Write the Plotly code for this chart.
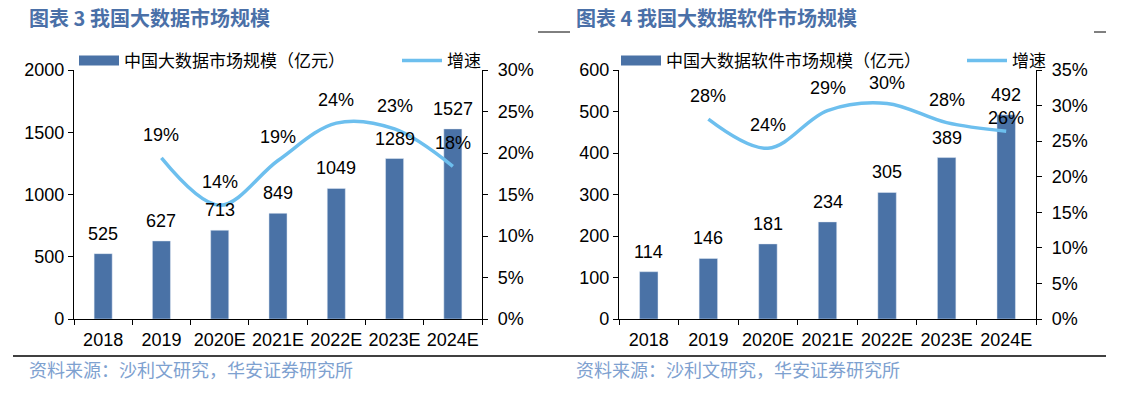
import plotly.graph_objects as go

W, H = 1140, 396

years = ["2018", "2019", "2020E", "2021E", "2022E", "2023E", "2024E"]
market = [525, 627, 713, 849, 1049, 1289, 1527]
market_growth = [19.4, 13.7, 19.1, 23.6, 22.9, 18.4]
software = [114, 146, 181, 234, 305, 389, 492]
software_growth = [28.1, 24.0, 29.3, 30.3, 27.6, 26.4]

left_title = "图表 3 我国大数据市场规模"
right_title = "图表 4 我国大数据软件市场规模"
left_bar_name = "中国大数据市场规模（亿元）"
right_bar_name = "中国大数据软件市场规模（亿元）"
line_name = "增速"
source_text = "资料来源：沙利文研究，华安证券研究所"

# label offsets (style, pixels above the mark)
left_growth_shift = [23, 23, 23, 23, 23, 23]
right_growth_shift = [23, 23, 23, 20, 23, 13]

BAR = "#4a72a6"
LINE = "#6dbfee"
TITLE = "#4a70a8"
SRC = "#7ea1d0"
NUM_FONT = "Liberation Sans, Arial, sans-serif"
CJK_FONT = "Noto Sans CJK SC, sans-serif"


def px(x):
    return x / W


def py(y):
    return (H - y) / H


fig = go.Figure()

for xa, ya, ya2, vals, gro, bname, lg in [
        ("x", "y", "y2", market, market_growth, left_bar_name, "legend"),
        ("x2", "y3", "y4", software, software_growth, right_bar_name, "legend2")]:
    fig.add_trace(go.Bar(x=years, y=vals, name=bname, marker_color=BAR,
                         xaxis=xa, yaxis=ya, showlegend=False))
    # legend entry drawn as a wide bar swatch
    fig.add_trace(go.Scatter(x=[None], y=[None], name=bname, mode="lines",
                             line=dict(color=BAR, width=10),
                             xaxis=xa, yaxis=ya, legend=lg))
    fig.add_trace(go.Scatter(x=years[1:], y=gro, name=line_name, mode="lines",
                             line=dict(color=LINE, width=3.5, shape="spline", smoothing=1.0),
                             xaxis=xa, yaxis=ya2, legend=lg))

annotations = []
for xa, ya, ya2, vals, gro, shifts in [
        ("x", "y", "y2", market, market_growth, left_growth_shift),
        ("x2", "y3", "y4", software, software_growth, right_growth_shift)]:
    for i, v in enumerate(vals):
        annotations.append(dict(x=i, y=v, xref=xa, yref=ya, text=str(v), showarrow=False,
                                yshift=20, font=dict(family=NUM_FONT, size=18, color="black")))
    for i, (g, s) in enumerate(zip(gro, shifts), start=1):
        annotations.append(dict(x=i, y=g, xref=xa, yref=ya2, text=f"{round(g)}%", showarrow=False,
                                yshift=s, font=dict(family=NUM_FONT, size=18, color="black")))

for xpos, t in [(27, left_title), (574, right_title)]:
    annotations.append(dict(x=px(xpos), y=py(18), xref="paper", yref="paper", xanchor="left",
                            yanchor="middle", text=f"<b>{t}</b>", showarrow=False,
                            font=dict(family=CJK_FONT, size=20, color=TITLE)))
for xpos in [27, 574]:
    annotations.append(dict(x=px(xpos), y=py(369), xref="paper", yref="paper", xanchor="left",
                            yanchor="middle", text=source_text, showarrow=False,
                            font=dict(family=CJK_FONT, size=18, color=SRC)))

shapes = [
    dict(type="line", xref="paper", yref="paper", x0=px(13), x1=px(1106), y0=py(356), y1=py(356),
         line=dict(color="black", width=1.3)),
    dict(type="line", xref="paper", yref="paper", x0=px(538), x1=px(570), y0=py(32), y1=py(32),
         line=dict(color="black", width=1)),
    dict(type="line", xref="paper", yref="paper", x0=px(1094), x1=px(1106), y0=py(32), y1=py(32),
         line=dict(color="black", width=1)),
]

axis_common = dict(showline=True, linecolor="black", linewidth=1.3, ticks="outside", ticklen=5,
                   tickcolor="black", tickwidth=1.3, showgrid=False, zeroline=False,
                   automargin=False,
                   tickfont=dict(family=NUM_FONT, size=18, color="black"))
ydom = [py(319), py(70)]
xr = [-0.5, len(years) - 0.5]

fig.update_layout(
    width=W, height=H, margin=dict(l=0, r=0, t=0, b=0, autoexpand=False),
    paper_bgcolor="white", plot_bgcolor="white",
    bargap=0.69,
    xaxis=dict(domain=[px(74), px(482)], anchor="y", type="category", tickson="boundaries",
               range=xr, tickangle=0, ticklabelstandoff=4, **axis_common),
    yaxis=dict(domain=ydom, anchor="x", range=[0, 2000], dtick=500, **axis_common),
    yaxis2=dict(overlaying="y", side="right", anchor="x", range=[0, 30], dtick=5,
                ticksuffix="%", ticklabelstandoff=6, **axis_common),
    xaxis2=dict(domain=[px(619), px(1036)], anchor="y3", type="category", tickson="boundaries",
                range=xr, tickangle=0, ticklabelstandoff=4, **axis_common),
    yaxis3=dict(domain=ydom, anchor="x2", range=[0, 600], dtick=100, **axis_common),
    yaxis4=dict(overlaying="y3", side="right", anchor="x2", range=[0, 35], dtick=5,
                ticksuffix="%", ticklabelstandoff=6, **axis_common),
    legend=dict(orientation="h", x=px(74), y=py(61), xanchor="left", yanchor="middle",
                itemwidth=40, entrywidth=268, entrywidthmode="pixels",
                bgcolor="rgba(0,0,0,0)", traceorder="normal",
                font=dict(family=CJK_FONT, size=17, color="black")),
    legend2=dict(orientation="h", x=px(616), y=py(61), xanchor="left", yanchor="middle",
                 itemwidth=40, entrywidth=291, entrywidthmode="pixels",
                 bgcolor="rgba(0,0,0,0)", traceorder="normal",
                 font=dict(family=CJK_FONT, size=17, color="black")),
    annotations=annotations,
    shapes=shapes,
    showlegend=True,
)

fig.write_html("out.html", config={"displayModeBar": False},
               post_script="document.body.style.margin='0';document.body.style.overflow='hidden';")
